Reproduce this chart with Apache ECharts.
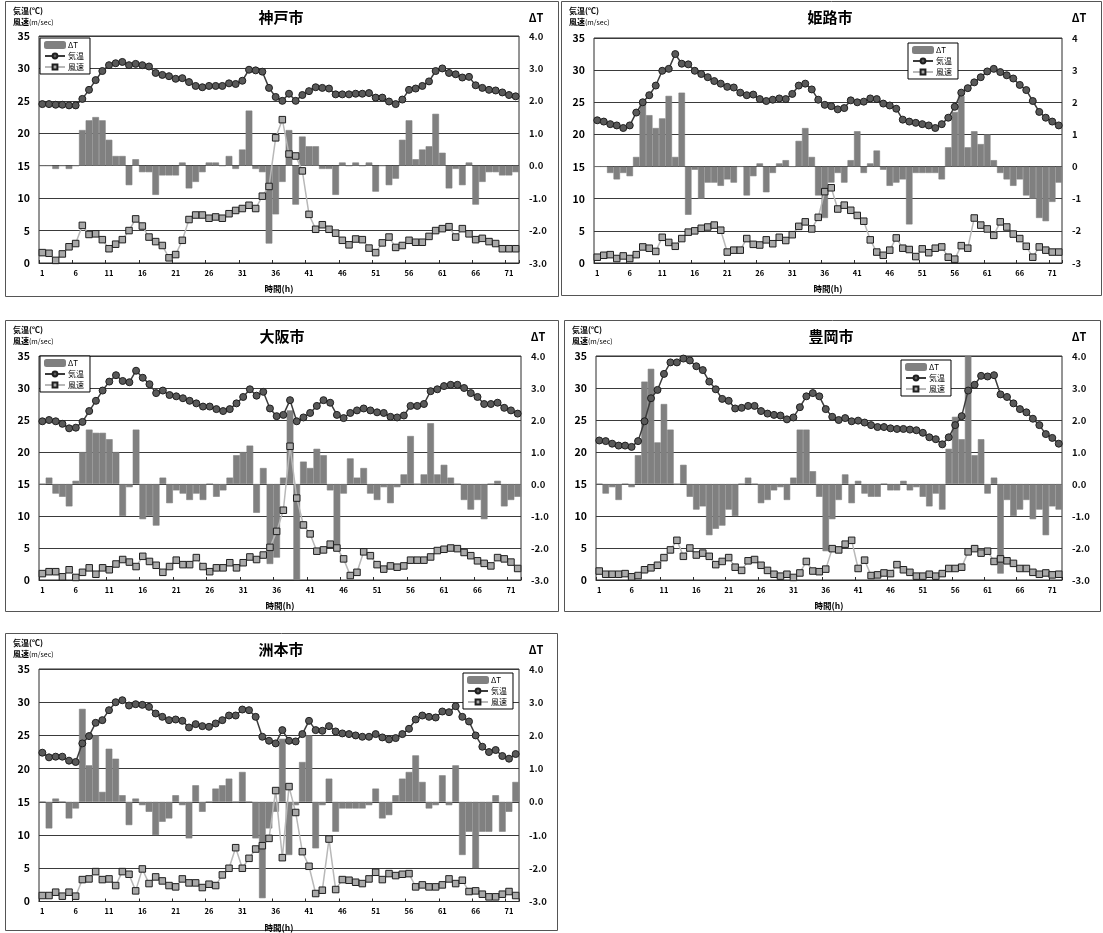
<!DOCTYPE html>
<html>
<head>
<meta charset="utf-8">
<script src="https://cdn.jsdelivr.net/npm/echarts@6/dist/echarts.min.js"></script>
<style>
  html, body { margin: 0; padding: 0; background: #fff; }
  #chart { width: 1103px; height: 933px; }
</style>
</head>
<body>
<div id="chart"></div>
<script>
// Hour categories 1..72
const hours = ['1','2','3','4','5','6','7','8','9','10','11','12','13','14','15','16','17','18','19','20',
  '21','22','23','24','25','26','27','28','29','30','31','32','33','34','35','36','37','38','39','40',
  '41','42','43','44','45','46','47','48','49','50','51','52','53','54','55','56','57','58','59','60',
  '61','62','63','64','65','66','67','68','69','70','71','72'];

// 神戸市
const kobeTemp = [24.5,24.5,24.4,24.4,24.3,24.3,25.3,26.7,28.2,29.6, 30.5,30.8,31.0,30.5,30.7,30.5,30.3,29.3,29.0,28.8,
  28.4,28.5,27.9,27.3,27.1,27.3,27.3,27.3,27.7,27.6, 28.1,29.8,29.7,29.5,27.0,25.6,25.0,26.1,25.0,25.9,
  26.5,27.1,27.0,26.9,26.0,26.0,26.0,26.1,26.1,26.2, 25.5,25.5,24.9,24.5,25.2,26.7,26.9,27.3,28.0,29.6,
  30.0,29.3,29.1,28.6,28.7,27.4,27.0,26.7,26.6,26.3, 25.9,25.7];
const kobeWind = [1.6,1.5,0.4,1.4,2.5,3.0,5.8,4.4,4.5,3.6, 2.2,2.9,3.6,5.0,6.8,5.7,4.0,3.3,2.7,0.8,
  1.3,3.5,6.7,7.4,7.4,6.9,7.1,6.9,7.6,8.1, 8.4,8.9,8.4,10.3,11.8,19.3,22.1,16.8,16.5,14.2,
  7.5,5.2,5.9,5.2,4.6,3.5,2.8,3.7,3.6,2.3, 1.6,3.1,4.0,2.4,2.7,3.5,3.2,3.2,4.1,5.0,
  5.3,5.6,4.0,5.3,4.5,3.6,3.8,3.3,3.0,2.2, 2.2,2.2];
const kobeDT = [0,0,-0.1,0,-0.1,0,1.1,1.4,1.5,1.4, 0.8,0.3,0.3,-0.6,0.2,-0.2,-0.2,-0.9,-0.3,-0.3,
  -0.3,0.1,-0.7,-0.5,-0.2,0.1,0.1,0,0.3,-0.1, 0.5,1.7,-0.1,-0.2,-2.4,-1.5,-0.5,1.1,-1.2,0.9,
  0.6,0.6,-0.1,-0.1,-0.9,0.1,0,0.1,0,0.1, -0.8,0,-0.6,-0.4,0.8,1.4,0.2,0.5,0.6,1.6,
  0.4,-0.7,-0.1,-0.6,0.1,-1.2,-0.5,-0.2,-0.2,-0.3, -0.3,-0.2];

// 姫路市
const himejiTemp = [22.2,22.0,21.6,21.4,21.0,21.4,23.4,25.0,26.1,27.6, 29.9,30.2,32.5,31.0,30.9,29.9,29.4,28.9,28.3,27.9,
  27.4,27.3,26.5,26.1,26.2,25.5,25.2,25.4,25.6,25.5, 26.3,27.6,27.9,27.0,25.4,24.6,24.4,23.9,24.1,25.3,
  25.0,25.1,25.6,25.5,24.8,24.5,24.0,22.3,22.0,21.8, 21.6,21.4,21.0,21.6,22.6,24.3,26.5,27.2,28.1,28.9,
  29.8,30.2,29.7,29.2,28.7,27.7,26.9,25.2,23.5,22.6, 22.0,21.4];
const himejiWind = [0.9,1.2,1.3,0.7,1.1,0.7,1.3,2.5,2.3,1.8, 4.0,3.2,2.6,3.8,4.8,5.0,5.4,5.6,5.9,5.1,
  1.7,2.0,2.0,3.8,2.9,2.8,3.6,3.0,4.0,3.5, 4.4,5.7,6.4,5.3,7.1,11.1,11.7,8.4,9.0,8.2,
  7.4,6.5,3.6,1.7,1.2,2.0,3.9,2.3,2.1,1.0, 2.2,1.6,2.3,2.5,0.9,0.6,2.7,2.3,7.0,5.9,
  5.3,4.3,6.4,5.6,4.5,3.8,2.6,0.9,2.5,2.0, 1.7,1.7];
const himejiDT = [0,0,-0.2,-0.4,-0.2,-0.3,0.3,2.0,1.6,1.2, 1.5,2.2,0.3,2.3,-1.5,-0.1,-1.0,-0.5,-0.5,-0.6,
  -0.4,-0.5,0,-0.9,-0.3,0.1,-0.8,-0.2,0.1,0.2, 0,0.8,1.2,0.3,-0.9,-1.6,-0.5,-0.2,-0.5,0.2,
  1.1,-0.2,0.1,0.5,-0.1,-0.6,-0.5,-0.4,-1.8,-0.2, -0.2,-0.2,-0.2,-0.4,0.6,1.7,2.2,0.6,1.1,0.7,
  1.0,0.2,-0.2,-0.4,-0.6,-0.4,-0.9,-1.0,-1.6,-1.7, -1.1,-0.5];

// 大阪市
const osakaTemp = [24.8,25.0,24.8,24.4,23.7,23.8,24.7,26.4,28.0,29.6, 31.0,32.0,31.1,30.9,32.7,31.6,30.6,29.2,29.6,28.9,
  28.7,28.4,28.0,27.6,27.1,27.1,26.7,26.4,26.7,27.6, 28.6,29.8,28.8,29.4,26.8,25.6,25.8,28.1,24.8,25.4,
  26.1,27.2,28.1,27.7,25.8,25.3,26.1,26.5,26.8,26.5, 26.2,26.1,25.5,25.4,25.7,27.2,27.2,27.5,29.5,29.8,
  30.3,30.5,30.5,30.0,29.2,28.6,27.5,27.5,27.7,26.9, 26.5,26.0];
const osakaWind = [1.0,1.3,1.3,0.5,1.6,0.4,1.2,1.9,0.9,1.9, 1.6,2.5,3.2,2.8,2.1,3.7,2.9,2.3,1.2,2.1,
  3.1,2.4,2.4,3.5,2.1,1.3,1.9,1.9,2.7,1.9, 2.7,3.6,3.2,3.9,5.1,7.6,10.9,20.9,12.8,8.6,
  7.2,4.5,4.7,5.6,5.0,3.3,0.7,1.2,4.4,3.8, 2.4,1.7,2.2,2.0,2.2,3.1,3.1,3.1,3.6,4.6,
  4.8,5.0,4.9,4.3,3.8,3.0,2.6,2.2,3.5,3.3, 2.8,1.8];
const osakaDT = [0,0.2,-0.3,-0.4,-0.7,0.1,1.0,1.7,1.6,1.6, 1.4,1.0,-1.0,-0.1,1.7,-1.1,-1.0,-1.3,0.2,-0.6,
  -0.2,-0.3,-0.5,-0.3,-0.5,0,-0.4,-0.2,0.2,0.9, 1.0,1.2,-0.9,0.5,-2.5,-2.3,0.2,2.3,-3.0,0.7,
  0.5,1.1,0.9,-0.2,-2.0,-0.3,0.8,0.2,0.5,-0.3, -0.5,-0.1,-0.6,-0.1,0.3,1.5,0,0.3,1.9,0.3,
  0.6,0.2,0,-0.5,-0.8,-0.5,-1.1,0,0.1,-0.7, -0.5,-0.4];

// 豊岡市
const toyookaTemp = [21.8,21.7,21.3,21.0,21.0,20.8,21.7,24.8,28.4,29.7, 32.2,34.0,34.0,34.6,34.3,33.4,32.8,31.0,29.8,28.3,
  28.0,26.8,26.9,27.2,27.2,26.4,26.0,25.8,25.7,25.1, 25.4,27.0,28.7,29.2,28.7,26.7,25.5,25.0,25.3,24.8,
  24.9,24.6,24.2,23.9,23.9,23.7,23.6,23.6,23.5,23.4, 23.0,22.3,22.0,21.2,22.3,24.2,25.6,29.6,30.5,31.9,
  31.8,32.0,29.0,28.6,27.6,26.7,26.2,25.2,24.2,22.8, 22.2,21.3];
const toyookaWind = [1.4,0.9,0.9,0.9,1.0,0.5,0.7,1.6,1.9,2.3, 3.5,4.7,6.2,3.7,5.0,3.9,4.2,3.7,2.4,2.9,
  3.5,2.0,1.5,3.0,3.2,2.3,1.5,0.9,0.6,0.9, 0.4,1.1,2.9,1.4,1.3,1.7,4.9,4.7,5.6,6.2,
  1.8,3.1,0.7,0.8,1.1,1.0,2.4,1.6,1.2,0.6, 0.6,0.9,0.6,1.0,1.8,1.8,2.0,4.4,4.9,4.2,
  4.5,2.9,3.3,3.0,2.6,1.8,1.8,1.2,0.9,1.1, 0.8,0.9];
const toyookaDT = [0,-0.3,-0.1,-0.5,0,-0.1,0.9,3.2,3.6,1.3, 2.5,1.7,0,0.6,-0.4,-0.8,-0.7,-1.6,-1.4,-1.3,
  -0.8,-1.0,0,0.2,0,-0.6,-0.5,-0.2,-0.1,-0.5, 0.2,1.7,1.7,0.4,-0.4,-2.1,-1.1,-0.5,0.3,-0.6,
  0.1,-0.3,-0.4,-0.4,0,-0.2,-0.2,0.1,-0.2,-0.1, -0.4,-0.7,-0.3,-0.8,1.1,2.1,1.4,4.0,0.9,1.4,
  -0.3,0.2,-2.8,-0.5,-1.0,-0.8,-0.5,-1.1,-0.8,-1.6, -0.7,-0.8];

// 洲本市
const sumotoTemp = [22.4,21.7,21.8,21.8,21.2,21.0,23.8,24.9,26.9,27.3, 28.8,30.0,30.3,29.5,29.7,29.6,29.3,28.3,27.8,27.3,
  27.4,27.2,26.2,26.7,26.4,26.3,26.8,27.3,28.0,28.0, 28.9,28.8,27.8,24.8,24.2,23.8,25.8,24.2,24.1,25.2,
  27.2,25.8,25.7,26.4,25.6,25.3,25.2,25.0,24.8,24.8, 25.2,24.7,24.4,24.6,25.2,26.0,27.4,28.0,27.8,27.7,
  28.6,28.5,29.4,27.8,27.1,25.0,23.3,22.5,22.8,21.9, 21.5,22.2];
const sumotoWind = [0.9,0.9,1.4,0.8,1.4,0.8,3.3,3.4,4.5,3.3, 3.4,2.4,4.5,4.1,1.6,4.9,2.7,3.7,3.1,2.4,
  2.2,3.4,2.8,2.8,2.1,2.6,2.4,4.0,5.0,8.1, 5.0,6.5,7.9,8.4,9.5,16.7,6.6,17.3,13.4,7.5,
  5.3,1.2,1.7,9.4,1.8,3.3,3.2,2.9,2.7,3.4, 4.4,3.3,4.2,3.9,4.1,4.2,2.2,2.5,2.2,2.2,
  2.5,3.4,2.7,3.2,1.5,1.6,1.1,0.7,0.7,1.1, 1.5,0.9];
const sumotoDT = [0,-0.8,0.1,0,-0.5,-0.2,2.8,1.1,2.0,0.3, 1.6,1.3,0.2,-0.7,0.1,-0.1,-0.3,-1.0,-0.6,-0.5,
  0.2,-0.1,-1.1,0.5,-0.3,0,0.4,0.5,0.7,0, 0.9,0,-1.1,-2.9,-0.8,-0.3,1.9,-1.6,-0.1,1.2,
  2.0,-1.4,-0.1,0.7,-0.9,-0.2,-0.2,-0.2,-0.2,-0.1, 0.4,-0.5,-0.4,0.2,0.7,0.9,1.4,0.6,-0.2,-0.1,
  0.8,-0.1,1.1,-1.6,-0.9,-2.0,-0.9,-0.9,0.2,-0.9, -0.3,0.6];

const leftTicks = { min: 0, max: 35, interval: 5 };
const rightTicks = { min: -3, max: 4, interval: 1 };
const legendNames = ['ΔT', '気温', '風速'];

const FONT = "'Noto Sans CJK JP', 'Noto Sans', sans-serif";

// Panel layout: frame box, plot rectangle, legend corner, right-axis label digits
const panels = [
  { title: '神戸市', temp: kobeTemp, wind: kobeWind, dt: kobeDT,
    box: [5, 1, 553, 295], plot: [39, 36, 480, 227], legend: [40, 38], digits: 1 },
  { title: '姫路市', temp: himejiTemp, wind: himejiWind, dt: himejiDT,
    box: [561, 1, 540, 294], plot: [594, 38, 468, 225], legend: [908, 43], digits: 0 },
  { title: '大阪市', temp: osakaTemp, wind: osakaWind, dt: osakaDT,
    box: [5, 320, 553, 291], plot: [39, 356, 482, 224], legend: [40, 356], digits: 1 },
  { title: '豊岡市', temp: toyookaTemp, wind: toyookaWind, dt: toyookaDT,
    box: [564, 320, 536, 291], plot: [596, 356, 466, 224], legend: [901, 360], digits: 1 },
  { title: '洲本市', temp: sumotoTemp, wind: sumotoWind, dt: sumotoDT,
    box: [5, 633, 552, 297], plot: [39, 669, 480, 233], legend: [463, 673], digits: 1 }
];

const grid = [], xAxis = [], yAxis = [], series = [], legend = [], graphic = [];

panels.forEach((p, k) => {
  const [gx, gy, gw, gh] = p.plot;
  const [bx, by, bw, bh] = p.box;

  grid.push({ left: gx, top: gy, width: gw, height: gh, show: true,
    borderColor: '#2b2b2b', borderWidth: 1, backgroundColor: '#fff', containLabel: false });

  xAxis.push({
    type: 'category', gridIndex: k, data: hours, boundaryGap: true,
    name: '時間(h)', nameLocation: 'middle', nameGap: 22,
    nameTextStyle: { fontFamily: FONT, fontWeight: 'bold', fontSize: 8.5, color: '#000' },
    axisLine: { show: true, lineStyle: { color: '#2b2b2b', width: 1 } },
    axisTick: { show: true, interval: 4, length: 3, inside: true, lineStyle: { color: '#2b2b2b' } },
    axisLabel: { interval: 4, fontFamily: FONT, fontWeight: 'bold', fontSize: 7.5, color: '#000', margin: 6 },
    splitLine: { show: false }
  });

  yAxis.push({
    type: 'value', gridIndex: k, position: 'left',
    min: leftTicks.min, max: leftTicks.max, interval: leftTicks.interval,
    axisLine: { show: false }, axisTick: { show: false },
    axisLabel: { fontFamily: FONT, fontWeight: 'bold', fontSize: 10.5, color: '#000', margin: 9 },
    splitLine: { show: true, lineStyle: { color: '#3a3a3a', width: 1 } }
  });
  yAxis.push({
    type: 'value', gridIndex: k, position: 'right',
    min: rightTicks.min, max: rightTicks.max, interval: rightTicks.interval,
    axisLine: { show: false }, axisTick: { show: false },
    axisLabel: { fontFamily: FONT, fontWeight: 'bold', fontSize: 9.5, color: '#111', margin: 10,
      formatter: v => v.toFixed(p.digits) },
    splitLine: { show: false }
  });

  series.push({
    type: 'bar', name: 'ΔT', xAxisIndex: k, yAxisIndex: 2 * k + 1, data: p.dt,
    barCategoryGap: '0%',
    itemStyle: { color: '#808080', borderColor: '#808080', borderWidth: 0.6 }, z: 2
  });
  series.push({
    type: 'line', name: '気温', xAxisIndex: k, yAxisIndex: 2 * k, data: p.temp,
    symbol: 'circle', symbolSize: 7, showAllSymbol: true,
    itemStyle: { color: '#595959', borderColor: '#1f1f1f', borderWidth: 1 },
    lineStyle: { color: '#3c3c3c', width: 1.5 }, z: 4
  });
  series.push({
    type: 'line', name: '風速', xAxisIndex: k, yAxisIndex: 2 * k, data: p.wind,
    symbol: 'rect', symbolSize: 6.5, showAllSymbol: true,
    itemStyle: { color: '#a8a8a8', borderColor: '#1f1f1f', borderWidth: 1 },
    lineStyle: { color: '#b8b8b8', width: 1.5 }, z: 3
  });

  legend.push({
    data: legendNames, orient: 'vertical', left: p.legend[0], top: p.legend[1],
    itemWidth: 20, itemHeight: 6, itemGap: 3, padding: [3, 6, 3, 4],
    borderColor: '#000', borderWidth: 1, backgroundColor: '#fff',
    textStyle: { fontFamily: FONT, fontSize: 8, color: '#000', padding: [0, 0, 0, -2] },
    selectedMode: false
  });

  // panel frame
  graphic.push({ type: 'rect', shape: { x: bx + 0.5, y: by + 0.5, width: bw, height: bh },
    style: { fill: 'none', stroke: '#555', lineWidth: 1 }, z: 0, silent: true });
  // panel title
  graphic.push({ type: 'text', x: gx + gw / 2 + 2, y: by + 16, silent: true,
    style: { text: p.title, font: `bold 15px ${FONT}`, fill: '#000',
      align: 'center', verticalAlign: 'middle', textAlign: 'center', textVerticalAlign: 'middle' } });
  // left axis captions
  graphic.push({ type: 'text', x: bx + 8, y: by + 10, silent: true,
    style: { text: '気温(℃)', font: `bold 8px ${FONT}`, fill: '#000',
      align: 'left', verticalAlign: 'middle', textAlign: 'left', textVerticalAlign: 'middle' } });
  graphic.push({ type: 'text', x: bx + 8, y: by + 21, silent: true,
    style: { text: '{b|風速}{n|(m/sec)}', fill: '#000',
      align: 'left', verticalAlign: 'middle', textAlign: 'left', textVerticalAlign: 'middle',
      rich: { b: { fontFamily: FONT, fontWeight: 'bold', fontSize: 8, fill: '#000' },
              n: { fontFamily: FONT, fontSize: 7, fill: '#000' } } } });
  // right axis caption
  graphic.push({ type: 'text', x: gx + gw + 17, y: by + 17, silent: true,
    style: { text: 'ΔT', font: `bold 11px ${FONT}`, fill: '#000',
      align: 'center', verticalAlign: 'middle', textAlign: 'center', textVerticalAlign: 'middle' } });
});

const chart = echarts.init(document.getElementById('chart'), null, { renderer: 'canvas' });
chart.setOption({
  animation: false,
  backgroundColor: '#fff',
  textStyle: { fontFamily: FONT },
  grid, xAxis, yAxis, series, legend, graphic
});
</script>
</body>
</html>
